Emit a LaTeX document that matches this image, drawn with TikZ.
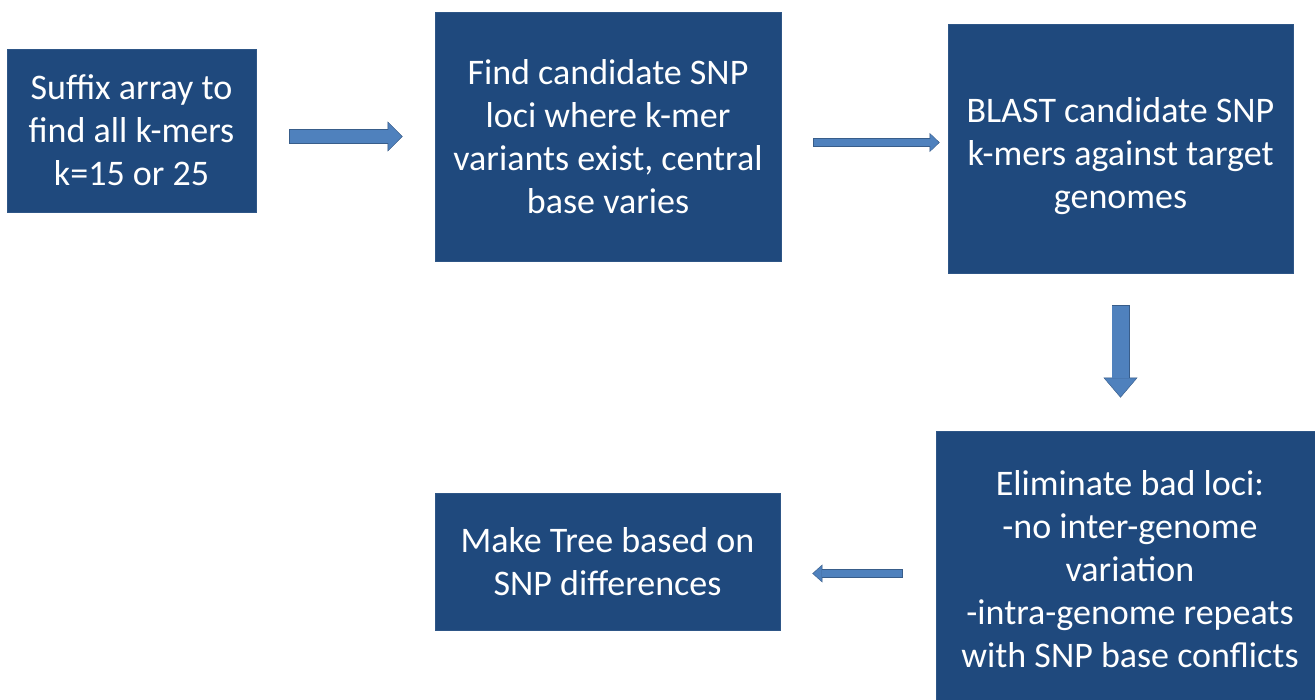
\documentclass[tikz,border=0pt]{standalone}
\usepackage{fontspec}
\setmainfont{Carlito}
\usetikzlibrary{arrows.meta, calc}
\definecolor{boxblue}{HTML}{1F497D}
\definecolor{boxline}{HTML}{2E5687}
\definecolor{arrowfill}{HTML}{4F81BD}
\definecolor{arrowline}{HTML}{385D8A}

\begin{document}
\begin{tikzpicture}[
    x=1pt, y=-1pt,
    stepbox/.style={draw=boxline, line width=0.8pt, fill=boxblue, text=white,
                    align=center, inner sep=0pt, font=\fontsize{36}{43}\selectfont},
    % shaft, head width, head length, start gap, end gap
    blk/.style n args={5}{draw=arrowline, line width=#1,
        shorten <=#4, shorten >=#5,
        -{Triangle[length=#3, width=#2, line width=0.4pt]},
        postaction={draw=arrowfill, line width=#1-1.4pt,
            shorten <=#4+0.7pt, shorten >=#5+1pt,
            -{Triangle[length=#3-1.8pt, width=#2-2.8pt, line width=0.4pt]}}}
]
\useasboundingbox (0,0) rectangle (1315,700);
\clip (0,0) rectangle (1315,700);

\node[stepbox, minimum width=249pt, minimum height=163pt] (suffix) at (131.5,130.5)
    {Suffix array to\\ find all k-mers\\ k=15 or 25};
\node[stepbox, minimum width=346pt, minimum height=249pt] (cand) at (608,136.5)
    {Find candidate SNP\\ loci where k-mer\\ variants exist, central\\ base varies};
\node[stepbox, minimum width=345pt, minimum height=249pt] (blast) at (1120.5,148.5)
    {\rule{0pt}{40pt}BLAST candidate SNP\\ k-mers against target\\ genomes};
\node[stepbox, minimum width=388pt, minimum height=276pt] (elim) at (1130,569)
    {Eliminate bad loci:\\ -no inter-genome\\ variation\\ -intra-genome repeats\\ with SNP base conflicts};
\node[stepbox, minimum width=345pt, minimum height=137pt] (tree) at (607.5,561.5)
    {Make Tree based on\\ SNP differences};

\coordinate (m23) at ($(cand.east)!0.5!(blast.west)$);
\coordinate (m54) at ([yshift=-4.5pt]elim.west);

\draw[blk={15pt}{30pt}{15pt}{33pt}{32pt}] (suffix.east |- cand.west) -- (cand.west);
\draw[blk={9pt}{19pt}{10pt}{32pt}{8pt}] (cand.east |- m23) -- (blast.west |- m23);
\draw[blk={18pt}{34pt}{20pt}{32pt}{33pt}] (blast.south) -- (blast.south |- elim.north);
\draw[blk={9pt}{18pt}{10pt}{33pt}{32pt}] (m54) -- (m54 -| tree.east);
\end{tikzpicture}
\end{document}
